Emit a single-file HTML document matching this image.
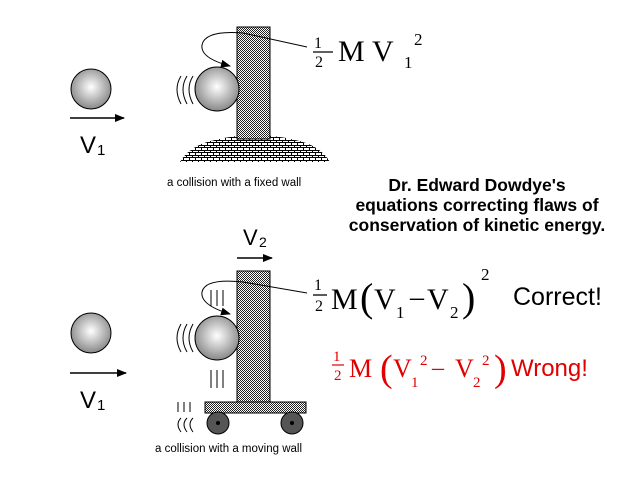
<!DOCTYPE html>
<html><head><style>
html,body{margin:0;padding:0;background:#fff;width:642px;height:482px;overflow:hidden}
svg{display:block}
.s{font-family:"Liberation Sans",sans-serif}
.r{font-family:"Liberation Serif",serif}
</style></head><body>
<svg width="642" height="482" viewBox="0 0 642 482">
<defs>
<pattern id="h" width="2" height="2" patternUnits="userSpaceOnUse">
<rect width="2" height="2" fill="#fff"/><rect width="1" height="1" fill="#222"/><rect x="1" y="1" width="1" height="1" fill="#222"/>
</pattern>
<pattern id="b" width="6" height="5" patternUnits="userSpaceOnUse">
<rect width="6" height="5" fill="#fff"/><path d="M0 0.5H6M0.5 0V2.5M3.5 2.5V5M0 2.5H6" stroke="#000" stroke-width="1" fill="none"/>
</pattern>
<radialGradient id="g" cx="50%" cy="45%" r="55%">
<stop offset="0" stop-color="#fff"/><stop offset="1" stop-color="#888"/>
</radialGradient>
<marker id="a" markerWidth="10" markerHeight="8" refX="9" refY="4" orient="auto" markerUnits="userSpaceOnUse">
<path d="M0 0L10 4L0 8Z" fill="#000"/></marker>
</defs>

<circle cx="91" cy="89" r="20" fill="url(#g)" stroke="#000"/>
<line x1="70" y1="118" x2="124" y2="118" stroke="#000" stroke-width="1.5" marker-end="url(#a)"/>
<text x="80" y="153" class="s" font-size="24">V</text><text x="97" y="155" class="s" font-size="15">1</text>

<path d="M180 162 Q190 145 215 140 Q255 130 295 140 Q320 145 330 162Z" fill="url(#b)"/>
<rect x="237" y="27" width="33" height="112" fill="url(#h)" stroke="#000"/>
<circle cx="217" cy="89" r="22" fill="url(#g)" stroke="#000"/>
<path d="M243 33 Q205 30 202 45 Q200 58 230 66" fill="none" stroke="#000" marker-end="url(#a)"/>
<line x1="243" y1="33" x2="307" y2="47" stroke="#000"/>
<g fill="none" stroke="#000">
<path d="M181 76 Q173 89 181 104"/><path d="M187 76 Q179 89 187 104"/><path d="M193 76 Q185 89 193 104"/>
</g>
<text x="167" y="186" class="s" font-size="11.5">a collision with a fixed wall</text>

<text x="314" y="48" class="r" font-size="16">1</text>
<line x1="313" y1="52" x2="333" y2="52" stroke="#000" stroke-width="1.3"/>
<text x="315" y="67" class="r" font-size="16">2</text>
<text x="338" y="61" class="r" font-size="30">M</text>
<text x="372" y="61" class="r" font-size="30">V</text>
<text x="404" y="68" class="r" font-size="17">1</text>
<text x="414" y="45" class="r" font-size="17">2</text>

<g class="s" font-size="17.5" font-weight="bold" text-anchor="middle">
<text x="477" y="191">Dr. Edward Dowdye's</text>
<text x="477" y="211">equations correcting flaws of</text>
<text x="477" y="231">conservation of kinetic energy.</text>
</g>

<text x="243" y="245" class="s" font-size="22">V</text><text x="259" y="247" class="s" font-size="14">2</text>
<line x1="237" y1="258" x2="272" y2="258" stroke="#000" stroke-width="1.5" marker-end="url(#a)"/>

<circle cx="91" cy="333" r="20" fill="url(#g)" stroke="#000"/>
<line x1="70" y1="373" x2="126" y2="373" stroke="#000" stroke-width="1.5" marker-end="url(#a)"/>
<text x="80" y="408" class="s" font-size="24">V</text><text x="97" y="410" class="s" font-size="15">1</text>

<rect x="237" y="271" width="33" height="131" fill="url(#h)" stroke="#000"/>
<rect x="205" y="402" width="101" height="11" fill="url(#h)" stroke="#000"/>
<circle cx="218" cy="423" r="11" fill="#555" stroke="#000"/><circle cx="218" cy="423" r="2" fill="#000"/>
<circle cx="292" cy="423" r="11" fill="#555" stroke="#000"/><circle cx="292" cy="423" r="2" fill="#000"/>
<circle cx="217" cy="338" r="22" fill="url(#g)" stroke="#000"/>
<path d="M243 282 Q205 278 202 292 Q200 305 230 314" fill="none" stroke="#000" marker-end="url(#a)"/>
<line x1="243" y1="282" x2="307" y2="293" stroke="#000"/>
<g fill="none" stroke="#000">
<path d="M181 324 Q173 338 181 352"/><path d="M187 324 Q179 338 187 352"/><path d="M193 324 Q185 338 193 352"/>
<path d="M181 418 Q175 424 181 432"/><path d="M187 418 Q181 424 187 432"/><path d="M193 418 Q187 424 193 432"/>
<path d="M211 290V306M217 290V306M223 290V306"/>
<path d="M211 370V388M217 370V388M223 370V388"/>
<path d="M178 402V412M184 402V412M190 402V412"/>
</g>
<text x="155" y="452" class="s" font-size="11.5">a collision with a moving wall</text>

<text x="314" y="290" class="r" font-size="16">1</text>
<line x1="313" y1="295" x2="327" y2="295" stroke="#000" stroke-width="1.3"/>
<text x="315" y="311" class="r" font-size="16">2</text>
<text x="331" y="309" class="r" font-size="30">M</text>
<text x="360" y="311" class="r" font-size="40">(</text>
<text x="374" y="309" class="r" font-size="30">V</text>
<text x="396" y="318" class="r" font-size="17">1</text>
<text x="410" y="306" class="r" font-size="28">–</text>
<text x="427" y="309" class="r" font-size="30">V</text>
<text x="450" y="318" class="r" font-size="17">2</text>
<text x="462" y="311" class="r" font-size="40">)</text>
<text x="481" y="280" class="r" font-size="17">2</text>
<text x="513" y="305" class="s" font-size="25">Correct!</text>

<g fill="#e00000">
<text x="333" y="361" class="r" font-size="15">1</text>
<line x1="332" y1="365" x2="344" y2="365" stroke="#e00000" stroke-width="1.2"/>
<text x="334" y="380" class="r" font-size="15">2</text>
<text x="349" y="377" class="r" font-size="26">M</text>
<text x="380" y="381" class="r" font-size="38">(</text>
<text x="393" y="377" class="r" font-size="26">V</text>
<text x="411" y="387" class="r" font-size="15">1</text>
<text x="420" y="365" class="r" font-size="15">2</text>
<text x="432" y="375" class="r" font-size="24">–</text>
<text x="455" y="377" class="r" font-size="26">V</text>
<text x="473" y="387" class="r" font-size="15">2</text>
<text x="482" y="365" class="r" font-size="15">2</text>
<text x="494" y="381" class="r" font-size="38">)</text>
<text x="511" y="376" class="s" font-size="24">Wrong!</text>
</g>
</svg>
</body></html>
